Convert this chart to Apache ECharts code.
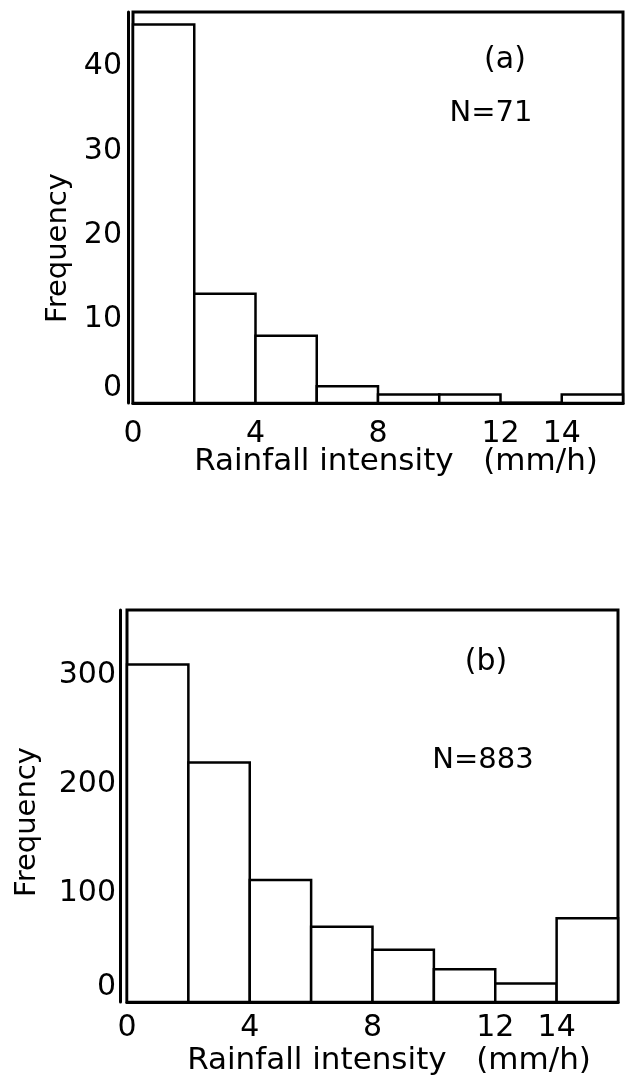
<!DOCTYPE html>
<html>
<head>
<meta charset="utf-8">
<script src="https://cdn.jsdelivr.net/npm/echarts@6/dist/echarts.min.js"></script>
<style>
  html, body { margin: 0; padding: 0; background: #fff; }
  #chart { width: 629px; height: 1081px; }
</style>
</head>
<body>
<div id="chart"></div>
<script>
// histogram bins (mm/h)
const binStart = [0, 2, 4, 6, 8, 10, 12, 14];
const binEnd = [2, 4, 6, 8, 10, 12, 14, 16];
// frequencies
const countsA = [45, 13, 8, 2, 1, 1, 0, 1];
const countsB = [310, 220, 112, 69, 48, 30, 17, 77];
// labelled x ticks
const xTickLabels = [0, 4, 8, 12, 14];

const FONT = '"DejaVu Sans", sans-serif';

function binData(counts) {
  return counts.map((c, i) => [binStart[i], binEnd[i], c]);
}

function renderBin(params, api) {
  const p0 = api.coord([api.value(0), 0]);
  const p1 = api.coord([api.value(1), api.value(2)]);
  return {
    type: 'rect',
    shape: { x: p0[0], y: p1[1], width: p1[0] - p0[0], height: p0[1] - p1[1] },
    style: { fill: '#fff', stroke: '#000', lineWidth: 2.5 }
  };
}

function xAxisFor(gridIndex, margin) {
  return {
    gridIndex,
    type: 'value',
    min: 0,
    max: 16,
    interval: 2,
    axisLine: { show: true, onZero: false, lineStyle: { color: '#000', width: 3 } },
    axisTick: { show: false },
    splitLine: { show: false },
    axisLabel: {
      color: '#000',
      fontFamily: FONT,
      fontSize: 30,
      margin,
      formatter: v => (xTickLabels.includes(v) ? String(v) : '')
    }
  };
}

function yAxisFor(gridIndex, max, interval, offset, margin) {
  return {
    gridIndex,
    type: 'value',
    min: 0,
    max,
    interval,
    offset,
    axisLine: { show: true, onZero: false, lineStyle: { color: '#000', width: 3 } },
    axisTick: { show: false },
    splitLine: { show: false },
    axisLabel: {
      color: '#000',
      fontFamily: FONT,
      fontSize: 30,
      margin,
      showMaxLabel: false,
      verticalAlignMinLabel: 'bottom',
      formatter: v => (v % interval === 0 ? String(v) : '')
    }
  };
}

function label(text, x, y, size, rotation) {
  return {
    type: 'text',
    x, y,
    rotation: rotation || 0,
    style: {
      text,
      fill: '#000',
      font: size + 'px ' + FONT,
      align: 'center',
      verticalAlign: 'middle'
    }
  };
}

const chart = echarts.init(document.getElementById('chart'), null, { renderer: 'canvas' });
chart.setOption({
  animation: false,
  backgroundColor: '#fff',
  grid: [
    { left: 133, right: 6, top: 12, bottom: 678, show: true, borderColor: '#000', borderWidth: 3, outerBoundsMode: 'none' },
    { left: 127, right: 11, top: 610, bottom: 79, show: true, borderColor: '#000', borderWidth: 3, outerBoundsMode: 'none' }
  ],
  xAxis: [xAxisFor(0, 16), xAxisFor(1, 11)],
  yAxis: [yAxisFor(0, 46.5, 10, 5, 6), yAxisFor(1, 360, 100, 7, 4)],
  series: [
    {
      type: 'custom',
      xAxisIndex: 0,
      yAxisIndex: 0,
      renderItem: renderBin,
      encode: { x: [0, 1], y: 2 },
      data: binData(countsA)
    },
    {
      type: 'custom',
      xAxisIndex: 1,
      yAxisIndex: 1,
      renderItem: renderBin,
      encode: { x: [0, 1], y: 2 },
      data: binData(countsB)
    }
  ],
  graphic: [
    label('(a)', 505, 60, 30),
    label('N=71', 491, 113, 29),
    label('(b)', 486, 662, 30),
    label('N=883', 483, 760, 29),
    label('Rainfall intensity   (mm/h)', 396, 462, 31),
    label('Rainfall intensity   (mm/h)', 389, 1061, 31),
    label('Frequency', 58, 248, 29, Math.PI / 2),
    label('Frequency', 27, 822, 29, Math.PI / 2)
  ]
});
</script>
</body>
</html>
